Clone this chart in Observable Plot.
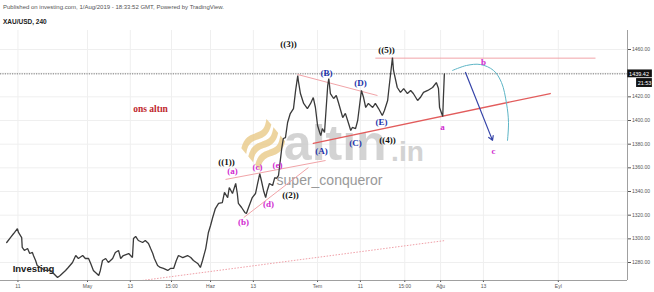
<!DOCTYPE html>
<html><head><meta charset="utf-8">
<script src="https://cdn.jsdelivr.net/npm/d3@7"></script>
<script src="https://cdn.jsdelivr.net/npm/@observablehq/plot@0.6"></script>
<style>
body{margin:0;background:#fff;width:654px;height:292px;overflow:hidden;font-family:"Liberation Sans",Arial,sans-serif}
#hdr{height:30px;position:relative}
#pub{position:absolute;left:3px;top:4px;font-size:6px;color:#555;white-space:nowrap}
#sym{position:absolute;left:3px;top:18px;font-size:6.5px;font-weight:bold;color:#222;white-space:nowrap}
svg{display:block}
</style></head><body>
<div id="hdr"><div id="pub">Published on investing.com, 1/Aug/2019 - 18:33:52 GMT, Powered by TradingView.</div><div id="sym">XAU/USD, 240</div></div>
<div id="chart"></div>
<script>
// trading-day index (0 = 1 May 2019) and XAU/USD price
const days = [-15.1,-14.4,-13.8,-13.1,-12.9,-12.3,-12.2,-11.8,-11.2,-10.8,
-10.3,-10.1,-9.7,-9.4,-8.8,-7.9,-6.9,-5.6,-5.1,-4.1,
-3.6,-2.8,-2.2,-1.7,-0.9,-0.4,0.2,0.6,1.1,2.1,
2.4,2.8,3.4,3.9,4.7,5.2,5.8,6.2,6.7,7.7,
8.4,8.6,9.0,9.5,10.3,10.8,11.4,11.8,12.2,12.5,
13.1,13.6,14.2,15.0,15.5,16.1,16.6,17.0,17.8,18.7,
19.3,19.8,20.6,21.1,21.5,22.1,22.6,23.0,23.4,23.9,
24.5,25.2,25.6,26.2,26.5,27.1,27.7,28.0,28.2,28.8,
29.4,29.7,30.1,30.8,31.4,31.8,32.2,32.5,32.9,33.3,
33.6,34.0,34.6,35.0,35.3,35.7,36.3,36.6,37.0,37.4,
37.9,38.5,38.9,39.3,39.4,39.8,40.4,41.1,41.7,42.2,
42.6,43.0,43.4,43.6,43.9,44.3,44.9,45.1,45.4,46.0,
46.5,46.9,47.7,48.2,48.8,49.2,49.5,50.1,50.5,51.2,
51.6,52.0,52.5,53.3,53.8,54.4,55.1,55.5,56.1,56.3,
57.0,57.2,57.9,58.5,59.1,59.8,60.4,60.9,61.7,62.2,
62.8,63.6,64.5,65.2,65.6,65.8,66.4,66.5,66.7];
const prices = [1296.9,1301.1,1304.5,1308.7,1305.4,1301.1,1292.7,1290.2,1291.8,1287.6,
1288.5,1285.9,1281.7,1277.5,1275.8,1273.3,1273.3,1267.3,1269,1273.3,
1275.8,1280,1285.9,1283.4,1285.9,1283.4,1283.4,1279.2,1273.3,1269,
1273.3,1281.7,1283.4,1280,1283.4,1288.5,1290.2,1283.4,1285.9,1287.6,
1284.2,1300.3,1302,1298.6,1296.9,1298.6,1296.1,1291.8,1287.6,1283.4,
1277.5,1275.8,1275,1273.3,1275,1275,1281.7,1285.9,1284.2,1285.9,
1284.2,1281.7,1279.2,1275.8,1281.7,1291.8,1305.4,1311.3,1318,1325.6,
1329.9,1330.7,1339.2,1334.9,1343.4,1338.3,1346.8,1338.3,1329.9,1326.5,
1322.3,1321.4,1326.5,1334.9,1338.3,1346.8,1355.2,1349.3,1340.9,1334.9,
1340.9,1346.8,1345.1,1351.8,1351,1353.5,1376.3,1384.8,1385.6,1398.3,
1405.9,1410.1,1425.4,1438,1433.8,1422.8,1414.4,1410.1,1414.4,1419.4,
1411,1395.8,1389.9,1387.3,1393.2,1389.9,1429.6,1435.5,1422.8,1418.6,
1421.1,1415.2,1402.5,1406,1397.5,1391.6,1394.1,1393.2,1400,1425.4,
1419.4,1411,1414.4,1411,1414.4,1410.1,1404.2,1408.5,1416.9,1425.4,
1453.2,1442.3,1427.9,1423.7,1427,1422.8,1425.4,1422.8,1416.9,1419.4,
1423.7,1425.4,1427.9,1432.1,1427,1411,1403.4,1416.9,1439.4];

const currentPrice = 1439.42;
const countdown = "21:53";
const yTicks = [1280,1300,1320,1340,1360,1380,1400,1420,1440,1460];
const xTickDays = [-13,0,8,15.7,23,31,43,51,59.3,66,74,88];
const xTickLabels = ["11","May","13","15:00","Haz","13","Tem","11","15:00","Ağu","13","Eyl"];
const xDomain = [-16.26,100.93];
const yDomain = [1264.8,1476.06];

// trendlines drawn on the chart (day, price pairs)
const redLine = [{t:42.2,p:1380.6},{t:86.5,p:1422.8}];
const pinkLines = [
  {t1:25.8,p1:1350.2,t2:44.5,p2:1366.2},
  {t1:29.2,p1:1318.0,t2:41.3,p2:1360.3},
  {t1:39.25,p1:1438.9,t2:54.2,p2:1421.1},
  {t1:53.8,p1:1452.7,t2:94.95,p2:1452.7}
];
const dottedLine = [{t1:8.0,p1:1263.5,t2:66.9,p2:1298.6}];
const arrowC = [{t1:70.65,p1:1440.6,t2:75.7,p2:1383.2}];
const arcT = [68.22,70.84,73.46,75.89,77.38,78.32,78.69,78.5];
const arcP = [1442.3,1446.5,1447.3,1442.3,1432.1,1414.4,1398.3,1383.1];

// wave labels
const blackLabels = [{l:"((1))",t:25.98,p:1364.5},{l:"((2))",t:37.94,p:1336.6},{l:"((3))",t:37.57,p:1464.2},{l:"((4))",t:56.07,p:1383.1},{l:"((5))",t:55.89,p:1459.2}];
const blueLabels = [{l:"(A)",t:43.74,p:1373.8},{l:"(B)",t:44.67,p:1439.7},{l:"(C)",t:50.09,p:1380.6},{l:"(D)",t:51.03,p:1431.3},{l:"(E)",t:54.95,p:1398.3}];
const magentaLabels = [{l:"(a)",t:27.10,p:1356.9},{l:"(b)",t:29.16,p:1313.8},{l:"(c)",t:31.78,p:1360.3},{l:"(d)",t:33.83,p:1329.0},{l:"(e)",t:35.51,p:1362.0},{l:"a",t:66.36,p:1394.1},{l:"b",t:74.02,p:1449.0},{l:"c",t:75.89,p:1373.8}];
const titleLabel = [{l:"ons altın",t:11.78,p:1410.1}];

const series = days.map((d,i)=>({t:d,p:prices[i]}));
const arc = arcT.map((d,i)=>({t:d,p:arcP[i]}));
const tickLabel = new Map(xTickDays.map((d,i)=>[d,xTickLabels[i]]));

const serif = "Liberation Serif, Times New Roman, serif";
const chart = Plot.plot({
  width:654, height:262,
  marginTop:0, marginBottom:12, marginLeft:0, marginRight:27,
  x:{domain:xDomain, ticks:xTickDays, tickFormat:d=>tickLabel.get(d), tickSize:2, tickPadding:1.5, label:null},
  y:{domain:yDomain, axis:"right", ticks:yTicks, tickFormat:d=>d.toFixed(2), tickSize:3, tickPadding:1.5, label:null},
  style:{background:"#fff", fontFamily:"Liberation Sans, Arial, sans-serif", fontSize:"5px", color:"#555", overflow:"visible"},
  marks:[
    Plot.ruleX(xTickDays,{stroke:"#efefef"}),
    Plot.ruleY(yTicks,{stroke:"#efefef"}),
    // watermark
    Plot.text([{t:32.9,p:1378.9}],{x:"t",y:"p",text:()=>"≋",fill:"#e8c680",fontSize:58,fontWeight:"bold",rotate:-40,opacity:0.75}),
    Plot.text([{t:46.3,p:1380.5}],{x:"t",y:"p",text:()=>"altın",fill:"#c9c9c9",fontSize:50,fontWeight:"bold",opacity:0.8}),
    Plot.text([{t:59.8,p:1373.5}],{x:"t",y:"p",text:()=>".in",fill:"#c9c9c9",fontSize:28,fontWeight:"bold",opacity:0.8}),
    Plot.text([{t:45.23,p:1349.3}],{x:"t",y:"p",text:()=>"super_conqueror",fill:"#999",fontSize:14}),
    Plot.text([{t:-10.09,p:1274.9}],{x:"t",y:"p",text:()=>"Investing",fill:"#1a1a1a",fontSize:9.5,fontWeight:"bold",stroke:"#fff",strokeWidth:0.6,paintOrder:"stroke"}),
    // lines
    Plot.ruleY([currentPrice],{stroke:"#555",strokeWidth:0.8,strokeDasharray:"1.2,1.2"}),
    Plot.link(dottedLine,{x1:"t1",y1:"p1",x2:"t2",y2:"p2",stroke:"#f0a0a8",strokeWidth:1,strokeDasharray:"1.5,1.5",clip:true}),
    Plot.link(pinkLines,{x1:"t1",y1:"p1",x2:"t2",y2:"p2",stroke:"#f1a4a8",strokeWidth:1}),
    Plot.line(redLine,{x:"t",y:"p",stroke:"#e25c5c",strokeWidth:1.3}),
    Plot.line(arc,{x:"t",y:"p",curve:"catmull-rom",stroke:"#5db5c6",strokeWidth:1}),
    Plot.arrow(arrowC,{x1:"t1",y1:"p1",x2:"t2",y2:"p2",stroke:"#3544a8",strokeWidth:1.2,headLength:6}),
    Plot.line(series,{x:"t",y:"p",stroke:"#3a3a3a",strokeWidth:1.3,strokeLinejoin:"miter"}),
    // labels
    Plot.text(blackLabels,{x:"t",y:"p",text:"l",fill:"#111",fontSize:9,fontWeight:"bold",fontFamily:serif}),
    Plot.text(blueLabels,{x:"t",y:"p",text:"l",fill:"#2233aa",fontSize:9,fontWeight:"bold",fontFamily:serif}),
    Plot.text(magentaLabels,{x:"t",y:"p",text:"l",fill:"#d02ad0",fontSize:9,fontWeight:"bold",fontFamily:serif}),
    Plot.text(titleLabel,{x:"t",y:"p",text:"l",fill:"#c0282d",fontSize:9.5,fontWeight:"bold",fontFamily:serif}),
    // frame
    Plot.ruleX([xDomain[1]],{stroke:"#888",strokeWidth:0.8}),
    Plot.ruleY([yDomain[0]],{stroke:"#888",strokeWidth:0.8}),
    // price label boxes
    Plot.rect([{x1:xDomain[1]+0.05,x2:xDomain[1]+4.65,y1:currentPrice-3.3,y2:currentPrice+3.3}],{x1:"x1",x2:"x2",y1:"y1",y2:"y2",fill:"#111"}),
    Plot.rect([{x1:xDomain[1]+1.7,x2:xDomain[1]+4.65,y1:currentPrice-11.5,y2:currentPrice-4.0}],{x1:"x1",x2:"x2",y1:"y1",y2:"y2",fill:"#111"}),
    Plot.text([currentPrice],{x:xDomain[1]+0.3,y:d=>d,text:d=>d.toFixed(2),fill:"#fff",fontSize:5.5,textAnchor:"start"}),
    Plot.text([countdown],{x:xDomain[1]+1.9,y:currentPrice-7.7,text:d=>d,fill:"#fff",fontSize:5.5,textAnchor:"start"})
  ]
});
document.getElementById("chart").appendChild(chart);
</script>
</body></html>
